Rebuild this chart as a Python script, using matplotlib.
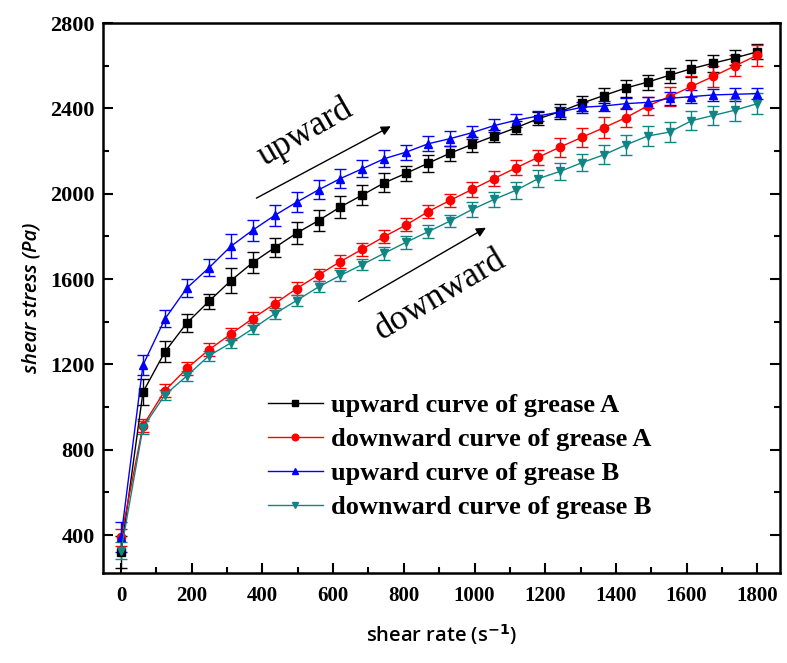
import numpy as np
import matplotlib.pyplot as plt

shear_rate = np.linspace(0, 1800, 30)

up_A = [320, 1070, 1259, 1394, 1495, 1592, 1677, 1747, 1815, 1874,
        1938, 1994, 2051, 2096, 2143, 2190, 2231, 2270, 2309, 2351,
        2384, 2424, 2460, 2495, 2523, 2555, 2586, 2612, 2637, 2665]
up_A_err = [75, 60, 50, 40, 35, 58, 50, 45, 50, 50,
            50, 45, 45, 35, 40, 35, 35, 30, 30, 30,
            35, 35, 35, 40, 35, 35, 40, 40, 35, 35]

down_A = [390, 913, 1077, 1181, 1268, 1342, 1415, 1484, 1555, 1619,
          1682, 1740, 1799, 1854, 1916, 1969, 2020, 2071, 2121, 2170,
          2218, 2264, 2309, 2356, 2411, 2455, 2503, 2550, 2600, 2649]
down_A_err = [40, 30, 30, 30, 30, 30, 30, 30, 30, 30,
              30, 30, 30, 30, 30, 30, 35, 35, 35, 35,
              45, 45, 50, 45, 40, 45, 50, 50, 50, 50]

up_B = [390, 1197, 1413, 1558, 1652, 1753, 1829, 1898, 1960, 2018,
        2071, 2117, 2164, 2195, 2234, 2258, 2286, 2319, 2344, 2364,
        2383, 2405, 2411, 2422, 2428, 2447, 2455, 2463, 2466, 2469]
up_B_err = [70, 45, 40, 40, 40, 56, 50, 50, 48, 45,
            45, 40, 40, 35, 35, 35, 30, 30, 30, 25,
            25, 25, 25, 25, 25, 30, 30, 30, 30, 25]

down_B = [326, 904, 1057, 1146, 1240, 1300, 1367, 1437, 1499, 1563,
          1617, 1668, 1721, 1773, 1822, 1872, 1926, 1973, 2016, 2070,
          2104, 2145, 2182, 2228, 2270, 2289, 2342, 2367, 2392, 2422]
down_B_err = [40, 30, 25, 25, 25, 25, 25, 26, 26, 26,
              26, 25, 30, 30, 30, 30, 35, 35, 40, 40,
              40, 40, 45, 45, 45, 45, 45, 45, 50, 50]

labels = ['upward curve of grease A', 'downward curve of grease A',
          'upward curve of grease B', 'downward curve of grease B']

serif = ['Liberation Serif', 'DejaVu Serif']

fig = plt.figure(figsize=(7.87, 6.63), dpi=100)
ax = fig.add_axes([0.1309, 0.1357, 0.8601, 0.8296])

series = [
    (up_A, up_A_err, 'black', 's'),
    (down_A, down_A_err, 'red', 'o'),
    (up_B, up_B_err, 'blue', '^'),
    (down_B, down_B_err, '#108585', 'v'),
]
handles = []
for (y, e, c, m), lab in zip(series, labels):
    cont = ax.errorbar(shear_rate, y, yerr=e, color=c, marker=m, markersize=6,
                       linewidth=1, elinewidth=1, capsize=4, capthick=1, label=lab)
    handles.append(cont[0])

ax.set_xlim(-51, 1864)
ax.set_ylim(222, 2800)
ax.set_xticks(np.arange(0, 1801, 200))
ax.set_xticks(np.arange(100, 1801, 200), minor=True)
ax.set_yticks(np.arange(400, 2801, 400))
ax.set_yticks(np.arange(600, 2801, 400), minor=True)
ax.tick_params(which='both', direction='in', top=False, right=True, width=1.5)
ax.tick_params(which='major', length=7)
ax.tick_params(which='minor', length=4)
for s in ax.spines.values():
    s.set_linewidth(1.8)
for t in ax.get_xticklabels():
    t.set_family(serif)
    t.set_fontweight('bold')
    t.set_fontsize(15)
for t in ax.get_yticklabels():
    t.set_family(serif)
    t.set_fontweight('bold')
    t.set_fontsize(16)
ax.tick_params(axis='x', pad=9)
ax.tick_params(axis='y', pad=6)

ax.set_xlabel('shear rate (s$^{\\mathbf{-1}}$)', fontsize=14.5, family='Open Sans',
              fontweight='semibold', labelpad=12)
ax.set_ylabel('shear stress (Pa)', fontsize=14.5, family='Open Sans',
              fontweight='semibold', style='italic', labelpad=6)

# direction arrows and labels
ax.annotate('', xy=(770, 2322), xytext=(376, 1973),
            arrowprops=dict(arrowstyle='-|>', color='black', lw=1, mutation_scale=14))
ax.annotate('', xy=(1039, 1847), xytext=(665, 1488),
            arrowprops=dict(arrowstyle='-|>', color='black', lw=1, mutation_scale=14))
ax.text(520, 2285, 'upward', rotation=30, fontsize=25, family=serif,
        ha='center', va='center', rotation_mode='anchor')
ax.text(902, 1527, 'downward', rotation=31, fontsize=25, family=serif,
        ha='center', va='center', rotation_mode='anchor')

ax.legend(handles=handles, labels=labels, loc='upper left',
          bbox_to_anchor=(0.208, 0.369), frameon=False,
          prop={'family': serif, 'weight': 'bold', 'size': 19},
          handlelength=2.1, labelspacing=0.4, handletextpad=0.3, markerscale=0.8)

fig.savefig('out.png', dpi=100)
